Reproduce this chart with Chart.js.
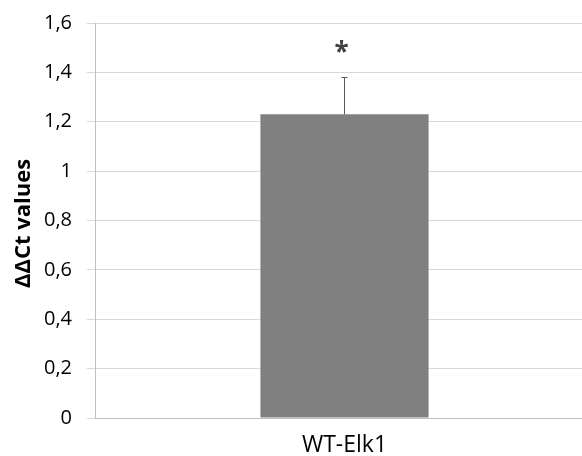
<!DOCTYPE html>
<html lang="en">
<head>
    <meta charset="UTF-8">
    <title>WT-Elk1 ΔΔCt</title>
    <style>
        html, body { margin: 0; padding: 0; background: #fff; }
        #wrap { width: 582px; height: 456px; overflow: hidden; }
        #inner { width: 594px; height: 456px; }
    </style>
</head>
<body>
    <div id="wrap"><div id="inner"><canvas id="myChart"></canvas></div></div>

    <script src="https://cdn.jsdelivr.net/npm/chart.js"></script>
    <script>
        const categories = ["WT-Elk1"];
        const ddct = [1.23];
        const ddctErr = [0.15];
        const marks = ["*"];
        const yTitle = "ΔΔCt values";

        const FONT = "'Open Sans', 'Liberation Sans', sans-serif";

        // error bar whiskers (upper only) + significance star
        const errorBars = {
            id: "errorBars",
            afterDatasetsDraw(chart) {
                const ctx = chart.ctx;
                const y = chart.scales.y;
                const meta = chart.getDatasetMeta(0);
                meta.data.forEach((bar, i) => {
                    const top = y.getPixelForValue(ddct[i] + ddctErr[i]);
                    const x = Math.round(bar.x) - 0.5;
                    ctx.save();
                    ctx.strokeStyle = "#595959";
                    ctx.lineWidth = 1;
                    ctx.beginPath();
                    ctx.moveTo(x, bar.y);
                    ctx.lineTo(x, top);
                    ctx.moveTo(x - 3, Math.round(top) + 0.5);
                    ctx.lineTo(x + 3, Math.round(top) + 0.5);
                    ctx.stroke();

                    ctx.fillStyle = "#404040";
                    ctx.font = "bold 26px " + FONT;
                    ctx.textAlign = "center";
                    ctx.textBaseline = "middle";
                    ctx.fillText(marks[i], x - 3, top - 24);
                    ctx.restore();
                });
            }
        };

        // rotated axis title
        const axisTitle = {
            id: "axisTitle",
            afterDraw(chart) {
                const ctx = chart.ctx;
                const a = chart.chartArea;
                ctx.save();
                ctx.translate(24, (a.top + a.bottom) / 2 + 3);
                ctx.rotate(-Math.PI / 2);
                ctx.fillStyle = "#000";
                ctx.font = "bold 22px " + FONT;
                ctx.textAlign = "center";
                ctx.textBaseline = "middle";
                ctx.fillText(yTitle, 0, 0);
                ctx.restore();
            }
        };

        new Chart(document.getElementById("myChart"), {
            type: "bar",
            data: {
                labels: categories,
                datasets: [{
                    data: ddct,
                    backgroundColor: "#808080",
                    borderWidth: 0,
                    barPercentage: 0.337,
                    categoryPercentage: 1
                }]
            },
            options: {
                responsive: true,
                maintainAspectRatio: false,
                animation: false,
                layout: { padding: { top: 23, right: 0, left: 0, bottom: 0 } },
                plugins: {
                    legend: { display: false },
                    tooltip: { enabled: false }
                },
                scales: {
                    x: {
                        grid: { display: false },
                        border: { display: true, color: "#bfbfbf", width: 1 },
                        ticks: {
                            color: "#000",
                            padding: 6,
                            font: { family: FONT, size: 23 }
                        },
                        afterFit(scale) {
                            scale.height = 38;
                            scale.paddingLeft = 0;
                            scale.paddingRight = 0;
                        }
                    },
                    y: {
                        min: 0,
                        max: 1.6,
                        grid: {
                            color: "#d9d9d9",
                            tickLength: 8,
                            drawTicks: true
                        },
                        border: { display: true, color: "#bfbfbf", width: 1 },
                        ticks: {
                            stepSize: 0.2,
                            color: "#000",
                            padding: 15,
                            font: { family: FONT, size: 20 },
                            callback: v => Number(v.toFixed(1)).toString().replace(".", ",")
                        },
                        afterFit(scale) {
                            scale.width = 95;
                            scale.paddingTop = 0;
                            scale.paddingBottom = 0;
                        }
                    }
                }
            },
            plugins: [errorBars, axisTitle]
        });
    </script>
</body>
</html>
